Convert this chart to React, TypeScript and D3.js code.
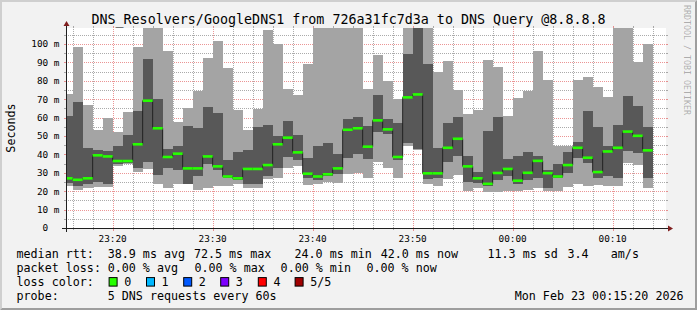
import React from 'react';
import * as d3 from 'd3';

// ---------- data ----------
const bucketStart = new Date(2026, 1, 22, 23, 15, 0); // first one-minute bucket
const viewStart = new Date(2026, 1, 22, 23, 15, 20);
const viewEnd = new Date(2026, 1, 23, 0, 15, 20);

// five sorted pings per minute (ms): min, 2nd, median, 4th, max
const pingMin = [22.6, 20.8, 21.5, 22.3, 22.3, 33.5, 34.6, 30.6, 32.2, 23.7,
  21.9, 23.7, 23.7, 20.8, 21.5, 23.0, 23.0, 23.7, 21.5, 21.5,
  26.9, 27.3, 32.8, 33.5, 23.4, 23.7, 24.8, 24.4, 29.1, 29.8,
  27.0, 35.7, 32.8, 27.3, 44.7, 42.5, 23.7, 22.6, 26.4, 28.6,
  20.1, 21.5, 19.7, 19.4, 20.1, 20.1, 20.8, 21.9, 20.1, 20.1,
  22.3, 23.7, 22.6, 23.2, 22.6, 22.6, 35.5, 34.0, 21.5];
const pingLow = [24.4, 23.0, 23.7, 24.8, 24.1, 34.6, 35.3, 32.8, 36.0, 28.6,
  32.8, 31.7, 24.1, 28.4, 34.6, 31.3, 27.3, 25.9, 23.8, 23.8,
  28.0, 32.4, 38.6, 37.1, 27.0, 26.2, 28.0, 29.2, 37.8, 40.0,
  37.3, 52.3, 51.2, 37.1, 46.2, 42.7, 26.4, 27.0, 35.7, 39.3,
  25.2, 24.2, 22.6, 25.9, 28.4, 24.1, 26.0, 27.0, 21.5, 27.0,
  29.9, 37.8, 35.3, 27.3, 28.5, 27.4, 42.1, 41.0, 27.4];
const pingMedian = [27.0, 26.2, 27.0, 39.5, 38.9, 36.4, 36.4, 45.5, 69.2, 54.2,
  38.6, 40.4, 32.4, 32.4, 38.9, 33.5, 28.0, 27.0, 32.1, 32.1,
  34.2, 45.5, 49.1, 41.1, 29.5, 28.0, 29.2, 32.4, 53.4, 54.2,
  44.2, 58.5, 53.6, 38.6, 71.0, 72.6, 29.7, 29.7, 43.6, 48.5,
  33.5, 27.0, 24.0, 29.9, 32.1, 25.7, 30.0, 36.5, 29.8, 28.0,
  34.2, 43.6, 38.2, 30.4, 41.6, 43.6, 52.4, 50.1, 42.2];
const pingHigh = [60.8, 68.6, 43.6, 42.5, 41.8, 44.4, 50.7, 63.4, 92.0, 70.3,
  43.1, 44.7, 55.6, 54.5, 65.9, 62.7, 36.7, 41.5, 42.5, 55.0,
  56.1, 49.8, 58.3, 50.7, 38.2, 44.7, 46.4, 40.4, 59.4, 60.5,
  55.6, 72.4, 59.4, 57.2, 94.7, 112.0, 88.9, 43.3, 57.2, 60.5,
  39.3, 30.2, 52.9, 60.4, 37.6, 39.4, 41.5, 38.9, 31.7, 34.9,
  41.5, 46.5, 63.7, 55.0, 44.5, 56.1, 71.9, 66.5, 55.0];
const pingMax = [73.0, 98.5, 67.0, 53.4, 60.0, 52.3, 63.2, 98.5, 115.0, 112.0,
  96.4, 57.8, 65.0, 74.6, 92.5, 101.8, 87.1, 63.9, 53.4, 64.8,
  107.6, 100.2, 75.8, 72.4, 89.3, 112.0, 115.0, 110.0, 112.0, 113.0,
  75.3, 94.2, 79.7, 69.9, 112.0, 115.0, 112.0, 84.7, 90.9, 75.0,
  62.1, 63.9, 91.4, 87.7, 61.0, 70.8, 74.6, 96.4, 80.6, 44.8,
  44.8, 80.6, 82.2, 76.8, 71.3, 112.0, 112.0, 90.0, 100.2];

const yMaxValue = 108.7; // ms at top of canvas
const yMajorTicks = [10, 20, 30, 40, 50, 60, 70, 80, 90, 100];
const yMinorTicks = [5, 15, 25, 35, 45, 55, 65, 75, 85, 95, 105];

const titleText = 'DNS_Resolvers/GoogleDNS1 from 726a31fc7d3a to DNS Query @8.8.8.8';
const yAxisTitle = 'Seconds';
const watermark = 'RRDTOOL / TOBI OETIKER';

const medianLabel = 'median rtt:';
const medianStats = ['38.9 ms avg', '72.5 ms max', '24.0 ms min', '42.0 ms now', '11.3 ms sd', '3.4', 'am/s'];
const lossLabel = 'packet loss:';
const lossStats = ['0.00 % avg', '0.00 % max', '0.00 % min', '0.00 % now'];
const lossColorLabel = 'loss color:';
const lossColorNames = ['0', '1', '2', '3', '4', '5/5'];
const lossColors = ['#26ff00', '#00b8ff', '#0059ff', '#7e00ff', '#ff0000', '#a00000'];
const probeLabel = 'probe:';
const probeText = '5 DNS requests every 60s';
const dateText = 'Mon Feb 23 00:15:20 2026';

// ---------- layout ----------
const W = 697, H = 310;
const X0 = 66, X1 = 666, Y0 = 228, Y1 = 28;
const MONO = '"DejaVu Sans Mono", monospace';
const axisFont = 9.4;
const legendFont = 11.7;
const titleFont = 13.35;
const medianStatX = [107.7, 193.9, 294.5, 380.7, 487.5, 567.5, 610.8];
const lossStatX = [107.7, 194.4, 280.6, 366.4];
const swatchX = [108.6, 146.0, 183.2, 220.2, 257.8, 294.6];
const legendRows = [257.5, 271.8, 286.1, 300.4];

const BG = '#f2f2f2';
const GRID = 'rgba(143,143,143,0.75)';
const MGRID = 'rgba(222,79,79,0.6)';
const AXIS = '#1f1f1f';
const ARROW = '#801f1f';
const SMOKE_OUT = '#a4a4a4';
const SMOKE_IN = '#585858';

export default function App() {
  const xs = d3.scaleTime().domain([viewStart, viewEnd]).range([X0, X1]);
  const ys = d3.scaleLinear().domain([0, yMaxValue]).range([Y0, Y1]);

  const buckets = pingMedian.map((m, i) => {
    const t0 = d3.timeMinute.offset(bucketStart, i);
    const t1 = d3.timeMinute.offset(bucketStart, i + 1);
    return { x0: xs(t0), x1: xs(t1), min: pingMin[i], lo: pingLow[i], med: m, hi: pingHigh[i], max: pingMax[i] };
  });

  const stepPts: [number, number][] = buckets.map(b => [b.x0, ys(b.med)]);
  const last = buckets[buckets.length - 1];
  stepPts.push([last.x1, ys(last.med)]);
  const stepLine = d3.line().curve(d3.curveStepAfter)(stepPts) || '';

  const majorTimes = d3.timeMinute.every(10)!.range(viewStart, viewEnd);
  const minorTimes = d3.timeMinute.every(2)!.range(viewStart, viewEnd).filter(t => t.getMinutes() % 10 !== 0);
  const fmt = d3.timeFormat('%H:%M');

  const py = (v: number) => Math.round(ys(v)) + 0.5;
  const px = (t: Date) => Math.round(xs(t)) + 0.5;
  const cw = axisFont * 0.602;
  const yLabelStart = 59.5 - 5 * cw;

  return (
    <svg width={W} height={H} style={{ position: 'absolute', left: 0, top: 0 }} xmlns="http://www.w3.org/2000/svg">
      <defs>
        <clipPath id="canvasClip">
          <rect x={X0} y={Y1} width={X1 - X0} height={Y0 - Y1} />
        </clipPath>
      </defs>
      <rect x={0} y={0} width={W} height={H} fill={BG} />
      <polygon points={`0,${H} 2,${H - 2} 2,2 ${W - 2},2 ${W},0 0,0`} fill="#cfcfcf" />
      <polygon points={`2,${H - 2} ${W - 2},${H - 2} ${W - 2},2 ${W},0 ${W},${H} 0,${H}`} fill="#9e9e9e" />
      <rect x={X0} y={Y1} width={X1 - X0} height={Y0 - Y1} fill="#ffffff" />

      {/* grid (beneath the smoke) */}
      <g>
        {yMinorTicks.filter(v => v < yMaxValue).map(v => (
          <g key={'hm' + v}>
            <line x1={X0 - 2} x2={X0} y1={py(v)} y2={py(v)} stroke={GRID} />
            <line x1={X1} x2={X1 + 2} y1={py(v)} y2={py(v)} stroke={GRID} />
            <line x1={X0} x2={X1} y1={py(v)} y2={py(v)} stroke={GRID} strokeDasharray="1,1" />
          </g>
        ))}
        {yMajorTicks.map(v => (
          <g key={'hM' + v}>
            <line x1={X0 - 2} x2={X0} y1={py(v)} y2={py(v)} stroke={MGRID} />
            <line x1={X1} x2={X1 + 2} y1={py(v)} y2={py(v)} stroke={MGRID} />
            <line x1={X0} x2={X1} y1={py(v)} y2={py(v)} stroke={MGRID} strokeDasharray="1,1" />
          </g>
        ))}
        {minorTimes.map(t => (
          <g key={'vm' + t.getTime()}>
            <line x1={px(t)} x2={px(t)} y1={Y0} y2={Y0 + 2} stroke={GRID} />
            <line x1={px(t)} x2={px(t)} y1={Y1 - 2} y2={Y1} stroke={GRID} />
            <line x1={px(t)} x2={px(t)} y1={Y0} y2={Y1} stroke={GRID} strokeDasharray="1,1" />
          </g>
        ))}
        {majorTimes.map(t => (
          <g key={'vM' + t.getTime()}>
            <line x1={px(t)} x2={px(t)} y1={Y0} y2={Y0 + 3} stroke={MGRID} />
            <line x1={px(t)} x2={px(t)} y1={Y1 - 2} y2={Y1} stroke={MGRID} />
            <line x1={px(t)} x2={px(t)} y1={Y0} y2={Y1} stroke={MGRID} strokeDasharray="1,1" />
          </g>
        ))}
      </g>

      <g clipPath="url(#canvasClip)">
        {buckets.map((b, i) => (
          <rect key={'o' + i} x={b.x0} y={ys(b.max)} width={b.x1 - b.x0} height={ys(b.min) - ys(b.max)} fill={SMOKE_OUT} shapeRendering="crispEdges" />
        ))}
        {buckets.map((b, i) => (
          <rect key={'i' + i} x={b.x0} y={ys(b.hi)} width={b.x1 - b.x0} height={ys(b.lo) - ys(b.hi)} fill={SMOKE_IN} shapeRendering="crispEdges" />
        ))}
        <path d={stepLine} fill="none" stroke="#202020" strokeWidth={1} />
        {buckets.map((b, i) => (
          <rect key={'m' + i} x={b.x0} y={ys(b.med) - 1.3} width={b.x1 - b.x0} height={2.6} fill={lossColors[0]} />
        ))}
      </g>

      {/* axes */}
      <line x1={X0 - 4} x2={X1 + 4} y1={Y0 + 0.5} y2={Y0 + 0.5} stroke={AXIS} />
      <line x1={X0 + 0.5} x2={X0 + 0.5} y1={Y0 + 4} y2={Y1 - 4} stroke={AXIS} />
      <polygon points={`${X1 + 2},${Y0 - 2.5} ${X1 + 2},${Y0 + 3.5} ${X1 + 7},${Y0 + 0.5}`} fill={ARROW} />
      <polygon points={`${X0 - 2.5},${Y1 - 2} ${X0 + 3.5},${Y1 - 2} ${X0 + 0.5},${Y1 - 7}`} fill={ARROW} />

      {/* y labels */}
      <g fontFamily={MONO} fontSize={axisFont} fill="#000">
        {yMajorTicks.map(v => (
          <g key={'yl' + v}>
            <text x={yLabelStart + 3 * cw} y={ys(v) + 3.4} textAnchor="end">{String(v)}</text>
            <text x={yLabelStart + 4 * cw} y={ys(v) + 3.4}>m</text>
          </g>
        ))}
        <text x={yLabelStart + 3 * cw} y={ys(0) + 3.4} textAnchor="end">0</text>
        {majorTimes.map(t => (
          <text key={'xl' + t.getTime()} x={xs(t)} y={241.5} textAnchor="middle">{fmt(t)}</text>
        ))}
      </g>

      <text x={W / 2} y={24} textAnchor="middle" fontFamily={MONO} fontSize={titleFont} fill="#000">{titleText}</text>
      <text transform={`translate(15,128) rotate(-90)`} textAnchor="middle" fontFamily={MONO} fontSize={legendFont} fill="#000">{yAxisTitle}</text>
      <text transform={`translate(684,5) rotate(90)`} fontFamily={MONO} fontSize={8.3} fill="rgba(0,0,0,0.3)">{watermark}</text>

      {/* legend */}
      <g fontFamily={MONO} fontSize={legendFont} fill="#000">
        <text x={16.5} y={legendRows[0]}>{medianLabel}</text>
        {medianStats.map((s, i) => <text key={'ms' + i} x={medianStatX[i]} y={legendRows[0]}>{s}</text>)}
        <text x={16.5} y={legendRows[1]}>{lossLabel}</text>
        {lossStats.map((s, i) => <text key={'ls' + i} x={lossStatX[i]} y={legendRows[1]}>{s}</text>)}
        <text x={16.5} y={legendRows[2]}>{lossColorLabel}</text>
        {lossColorNames.map((s, i) => (
          <g key={'lc' + i}>
            <rect x={swatchX[i] + 0.5} y={legendRows[2] - 8.5} width={8} height={8.5} fill={lossColors[i]} stroke="#000" strokeWidth={1} />
            <text x={swatchX[i] + 15.6} y={legendRows[2]}>{s}</text>
          </g>
        ))}
        <text x={16.5} y={legendRows[3]}>{probeLabel}</text>
        <text x={107.7} y={legendRows[3]}>{probeText}</text>
        <text x={683.6} y={legendRows[3]} textAnchor="end">{dateText}</text>
      </g>
    </svg>
  );
}
